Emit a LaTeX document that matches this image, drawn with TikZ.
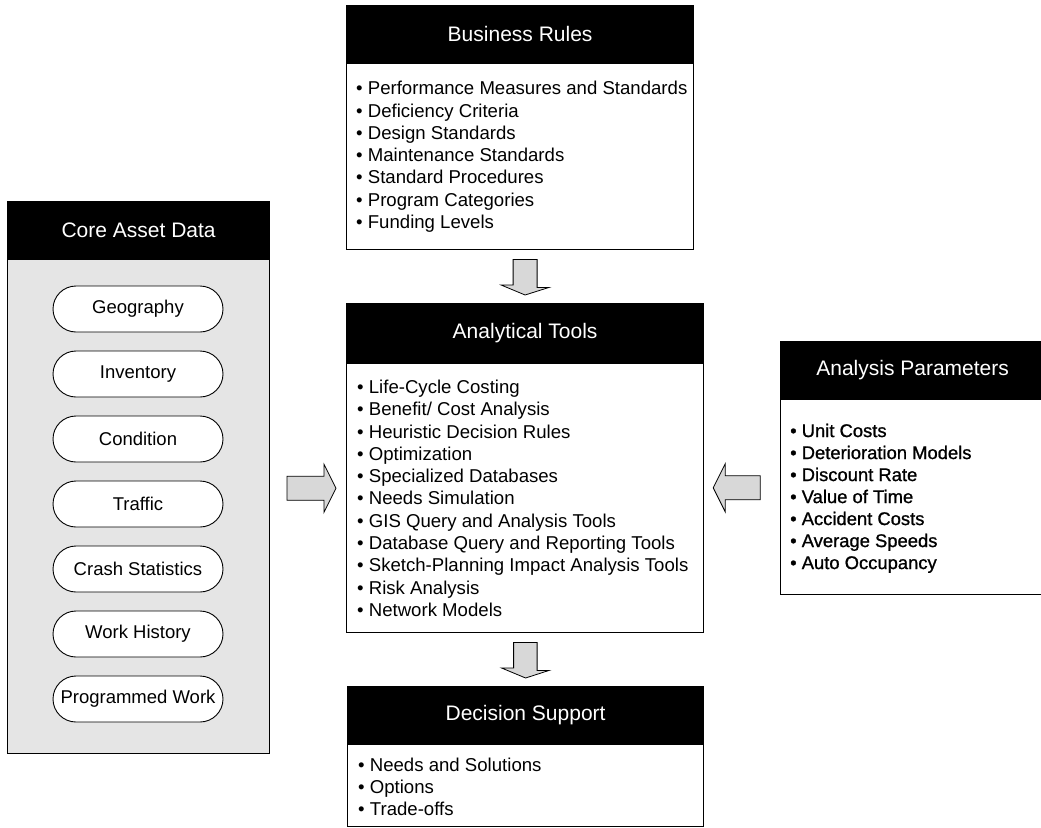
\documentclass[tikz,border=0pt]{standalone}
\usepackage{fontspec}
\setmainfont{Liberation Sans}
\newfontfamily\apfont[FakeBold=1]{Liberation Sans}
\usetikzlibrary{calc}
\definecolor{panelgray}{HTML}{E5E5E5}
\definecolor{arrowgray}{HTML}{D8D8D8}
\begin{document}
\begin{tikzpicture}[x=1pt,y=-1pt,
  hdr/.style={draw=black, fill=black, text=white, line width=1.2pt, inner sep=0pt,
    anchor=north west, font=\fontsize{21}{25}\selectfont},
  body/.style={draw=black, line width=1.2pt, fill=white, inner sep=0pt, anchor=north west},
  lst/.style={align=left, inner sep=0pt, anchor=west, font=\fontsize{18.6}{22.3}\selectfont},
  pill/.style={draw=black, fill=white, line width=0.9pt, rounded corners=23pt,
    minimum width=170pt, minimum height=46pt, inner sep=0pt,
    font=\fontsize{18.5}{22}\selectfont},
  barrow/.style={draw=black, fill=arrowgray, line width=0.8pt, line join=miter}]
\useasboundingbox (0,0) rectangle (1041,827);
\fill[white] (0,0) rectangle (1041,827);

% Business Rules
\node[hdr, minimum width=347pt, minimum height=57pt] (brh) at (346,5) {Business Rules};
\node[body, minimum width=347pt, minimum height=186pt] (br) at (brh.south west) {};
\node[lst] (brt) at ($(br.west)+(10,0)$) {%
• Performance Measures and Standards\\
• Deficiency Criteria\\
• Design Standards\\
• Maintenance Standards\\
• Standard Procedures\\
• Program Categories\\
• Funding Levels};

% Analytical Tools
\node[hdr, minimum width=357pt, minimum height=59pt] (ath) at (346,303) {Analytical Tools};
\node[body, minimum width=357pt, minimum height=269pt] (at) at (ath.south west) {};
\node[lst] (att) at ($(at.west)+(11,0)$) {%
• Life-Cycle Costing\\
• Benefit/ Cost Analysis\\
• Heuristic Decision Rules\\
• Optimization\\
• Specialized Databases\\
• Needs Simulation\\
• GIS Query and Analysis Tools\\
• Database Query and Reporting Tools\\
• Sketch-Planning Impact Analysis Tools\\
• Risk Analysis\\
• Network Models};

% Decision Support
\node[hdr, minimum width=356pt, minimum height=57pt] (dsh) at (347,686) {Decision Support};
\node[body, minimum width=356pt, minimum height=82pt] (ds) at (dsh.south west) {};
\node[lst] (dst) at ($(ds.west)+(11,1)$) {%
• Needs and Solutions\\
• Options\\
• Trade-offs};

% Analysis Parameters
\node[hdr, minimum width=264pt, minimum height=57pt] (aph) at (780,341) {Analysis Parameters};
\node[body, minimum width=264pt, minimum height=195pt] (ap) at (aph.south west) {};
\node[lst, font=\apfont\fontsize{18.4}{22}\selectfont] (apt) at ($(ap.west)+(10,1)$) {%
• Unit Costs\\
• Deterioration Models\\
• Discount Rate\\
• Value of Time\\
• Accident Costs\\
• Average Speeds\\
• Auto Occupancy};

% Core Asset Data
\node[hdr, minimum width=262pt, minimum height=57pt] (cadh) at (7,201) {Core Asset Data};
\node[body, fill=panelgray, minimum width=262pt, minimum height=494pt] (cad) at (cadh.south west) {};
\node[pill] (p1) at (138,309) {Geography};
\node[pill] (p2) at (138,374) {Inventory};
\node[pill] (p3) at (138,439) {Condition};
\node[pill] (p4) at (138,504) {Traffic};
\node[pill] (p5) at (138,569) {Crash Statistics};
\node[pill] (p6) at (138,634) {Work History};
\node[pill] (p7) at (138,699) {Programmed Work};

% block arrows
\coordinate (d1tip) at ($(ath.north)+(0,-8)$);
\coordinate (d1top) at ($(br.south -| ath.north)+(0,9)$);
\draw[barrow] (d1tip) -- ++(-24,-10) -- ++(12,0) |- (d1top) -- ++(12,0) -- ++(0,28) -- ++(12,0) -- cycle;

\coordinate (d2tip) at ($(dsh.north)+(0,-8)$);
\coordinate (d2top) at ($(at.south)+(0,9)$);
\draw[barrow] (d2tip) -- ++(-24,-10) -- ++(12,0) |- (d2top) -- ++(12,0) -- ++(0,28) -- ++(12,0) -- cycle;

\coordinate (rtip) at ($(at.west)+(-10,-10)$);
\draw[barrow] (rtip) -- ++(-12,-24) -- ++(0,12) -- ++(-37,0) -- ++(0,24) -- ++(37,0) -- ++(0,12) -- cycle;

\coordinate (ltip) at ($(at.east)+(9,-10.5)$);
\draw[barrow] (ltip) -- ++(12,-24) -- ++(0,12) -- ++(35,0) -- ++(0,24) -- ++(-35,0) -- ++(0,12) -- cycle;
\end{tikzpicture}
\end{document}
